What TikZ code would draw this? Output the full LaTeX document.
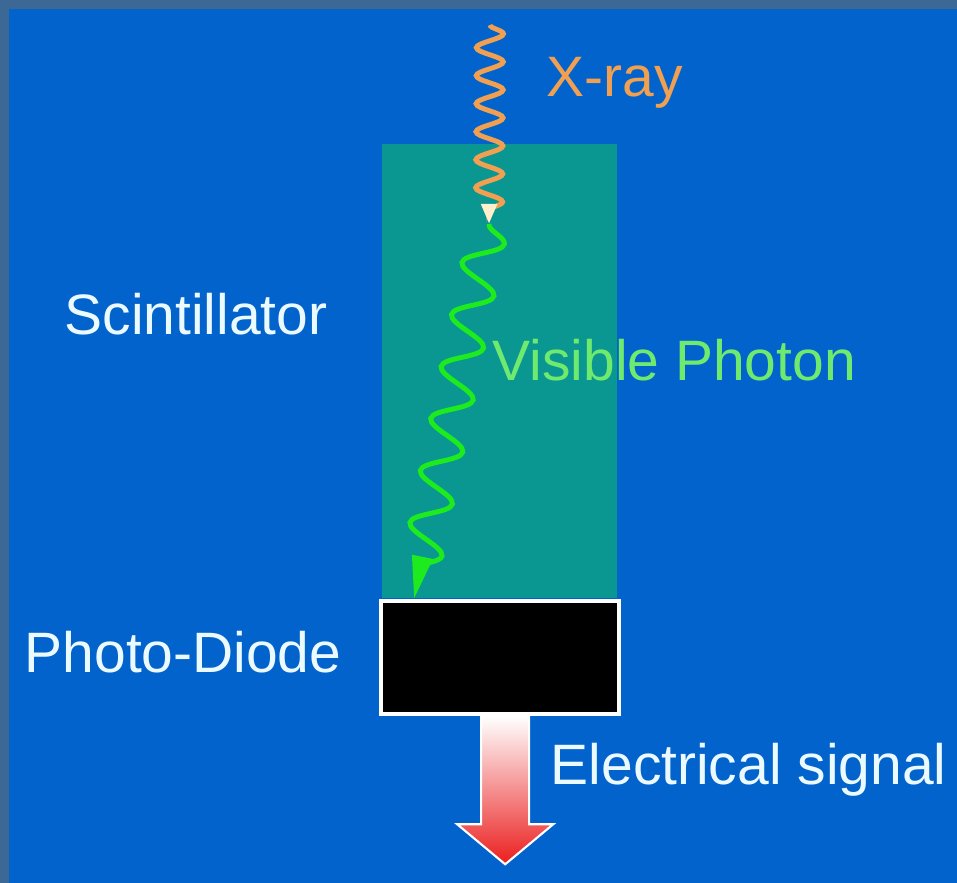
\documentclass[tikz,border=0pt]{standalone}
\usepackage{fontspec}
\setmainfont{Liberation Sans}
\usepackage{tikz}
\usetikzlibrary{decorations.pathmorphing, arrows.meta}
\definecolor{framegrey}{RGB}{60, 104, 150}
\definecolor{slideblue}{RGB}{3, 99, 204}
\definecolor{scintteal}{RGB}{10, 150, 145}
\definecolor{xrayorange}{RGB}{240, 160, 80}
\definecolor{tipcream}{RGB}{255, 240, 205}
\definecolor{photongreen}{RGB}{30, 235, 30}
\definecolor{photontext}{RGB}{110, 235, 110}
\definecolor{labelwhite}{RGB}{235, 250, 255}
\definecolor{signalred}{RGB}{235, 30, 30}

\tikzset{
	slidetext/.style={anchor=base west, inner sep=0pt, font=\fontsize{16.2}{19}\selectfont},
	wave/.style={line width=1.4pt, decorate},
}

\begin{document}
\begin{tikzpicture}[x=0.01cm, y=-0.01cm]
					% slide background
					\fill[framegrey] (0,0) rectangle (957,883);
					\fill[slideblue] (9,9) rectangle (957,883);
					% detector
					\node[fill=scintteal, minimum width=2.35cm, minimum height=4.54cm, inner sep=0pt, anchor=north west] (scint) at (381,143) {};
					\node[fill=black, draw=white, line width=1.2pt, minimum width=2.38cm, minimum height=1.13cm, inner sep=0pt, anchor=north west] (diode) at (379,599) {};
					\coordinate (xsrc) at (490,25);
					\coordinate (hit) at (489,224);
					\coordinate (land) at ([xshift=0.35cm]diode.north west);
					\coordinate (out) at ([xshift=0.05cm]diode.south);
					% photons
					\draw[xrayorange, wave, decoration={snake, amplitude=1.35mm, segment length=2.8mm, post length=0.5mm},
						-{Triangle[length=2mm, width=1.5mm, color=tipcream]}] (xsrc) -- (hit);
					\draw[photongreen, wave, decoration={snake, amplitude=1.9mm, segment length=5.3mm, post length=0.5mm},
						-{Triangle[length=4.3mm, width=2mm]}] (hit) -- (land);
					% signal out of the diode
					\shade[shift={(out)}, top color=white, bottom color=signalred, draw=white, line width=0.6pt]
						(-24,0) -- (24,0) -- (24,108) -- (48,108) -- (0,148) -- (-48,108) -- (-24,108) -- cycle;
					% labels
					\node[slidetext, text=xrayorange] (xlabel) at (546,97) {X-ray};
					\node[slidetext, text=labelwhite] (scintlabel) at (64,335) {Scintillator};
					\node[slidetext, text=photontext] (photonlabel) at (492,381) {Visible Photon};
					\node[slidetext, text=labelwhite] (diodelabel) at (24,673) {Photo-Diode};
					\node[slidetext, text=labelwhite] (signallabel) at (550,785) {Electrical signal};
				\end{tikzpicture}
\end{document}
